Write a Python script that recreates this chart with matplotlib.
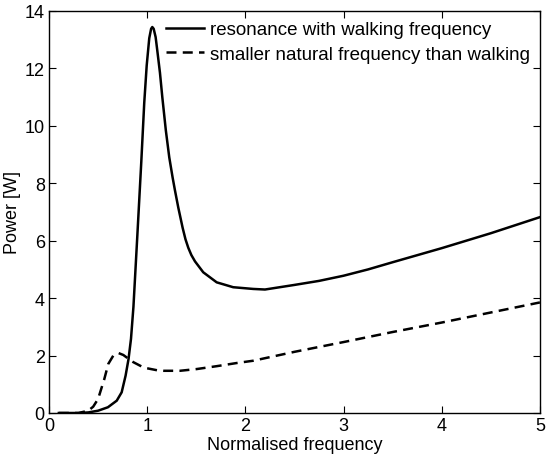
import matplotlib
matplotlib.use("Agg")
import matplotlib.pyplot as plt

plt.rcParams['font.family'] = ['Liberation Sans', 'DejaVu Sans']

# Solid: resonance with walking frequency
x_res = [0.10, 0.30, 0.40, 0.50, 0.60, 0.69, 0.74, 0.78, 0.81, 0.835, 0.86, 0.90,
         0.94, 0.97, 0.995, 1.021, 1.040, 1.052, 1.066, 1.086, 1.103, 1.130,
         1.154, 1.19, 1.225, 1.259, 1.283, 1.317, 1.361, 1.39, 1.419, 1.45, 1.487,
         1.571, 1.708, 1.876, 2.08, 2.20, 2.50, 2.75, 3.00, 3.25, 3.50, 4.00,
         4.50, 5.00]
y_res = [0.00, 0.00, 0.02, 0.08, 0.20, 0.43, 0.72, 1.30, 1.88, 2.58, 3.70, 6.20,
         8.75, 10.80, 12.10, 13.05, 13.38, 13.44, 13.38, 13.09, 12.62, 11.85,
         11.00, 9.84, 8.90, 8.20, 7.75, 7.15, 6.45, 6.05, 5.75, 5.50, 5.28,
         4.90, 4.55, 4.38, 4.32, 4.30, 4.46, 4.60, 4.78, 5.00, 5.25, 5.74,
         6.26, 6.82]

# Dashed: smaller natural frequency than walking
x_small = [0.10, 0.30, 0.40, 0.45, 0.50, 0.563, 0.604, 0.655, 0.706, 0.757, 0.825,
           0.859, 0.96, 0.995, 1.113, 1.164, 1.334, 1.504, 1.707, 1.911, 2.08,
           2.50, 3.00, 3.50, 4.00, 4.50, 5.00]
y_small = [0.00, 0.00, 0.08, 0.22, 0.49, 1.18, 1.71, 2.00, 2.09, 2.02, 1.85,
           1.77, 1.59, 1.56, 1.48, 1.47, 1.47, 1.53, 1.63, 1.74, 1.82,
           2.13, 2.47, 2.82, 3.15, 3.50, 3.85]

labels = ['resonance with walking frequency', 'smaller natural frequency than walking']
x_ticks = [0, 1, 2, 3, 4, 5]
y_ticks = [0, 2, 4, 6, 8, 10, 12, 14]

fig = plt.figure(figsize=(5.47, 4.6), dpi=100)
ax = fig.add_axes([0.0896, 0.10, 0.8974, 0.874])

ax.plot(x_res, y_res, color='black', lw=1.8, label=labels[0])
ax.plot(x_small, y_small, color='black', lw=1.8, ls=(0, (4, 2.5)), label=labels[1])

ax.set_xlim(0, 5)
ax.set_ylim(0, 14)
ax.set_xticks(x_ticks)
ax.set_yticks(y_ticks)
ax.tick_params(direction='in', top=True, right=True, length=5, labelsize=13, width=0.8,
               pad=3)
for s in ax.spines.values():
    s.set_linewidth(1.0)
ax.set_xlabel('Normalised frequency', fontsize=13, labelpad=1)
ax.set_ylabel('Power [W]', fontsize=13, labelpad=3)

ax.legend(loc='upper right', frameon=False, fontsize=13.5, handlelength=2.0,
          handletextpad=0.3, labelspacing=0.4, borderaxespad=0.15,
          bbox_to_anchor=(1.0, 1.0))

fig.savefig('out.png', dpi=100)
